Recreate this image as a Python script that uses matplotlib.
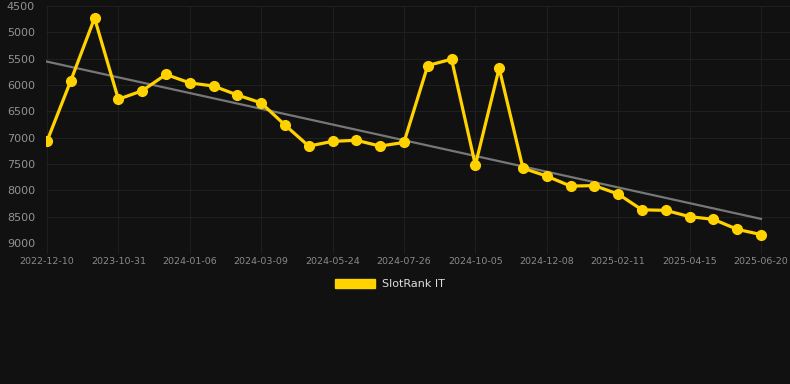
import numpy as np
import matplotlib
matplotlib.use("Agg")
import matplotlib.pyplot as plt
from matplotlib.patches import Patch

# Data
rank_values = [7070, 5920, 4730, 6270, 6110, 5800, 5960, 6020, 6190, 6340,
               6760, 7160, 7070, 7050, 7160, 7090, 5630, 5510, 7520, 5680,
               7580, 7730, 7920, 7910, 8070, 8370, 8380, 8500, 8550, 8740, 8840]
tick_labels = ["2022-12-10", "2023-10-31", "2024-01-06", "2024-03-09", "2024-05-24",
               "2024-07-26", "2024-10-05", "2024-12-08", "2025-02-11", "2025-04-15",
               "2025-06-20"]
y_ticks = [4500, 5000, 5500, 6000, 6500, 7000, 7500, 8000, 8500, 9000]
trend_ends = [5556, 8542]
series_name = "SlotRank IT"

BG = "#111111"
GOLD = "#FFD200"

fig = plt.figure(figsize=(7.9, 3.84), dpi=100, facecolor=BG)
ax = fig.add_axes([46/790, 1-243/384, 1-46/790, (243-6)/384])
ax.set_facecolor(BG)

x = np.arange(len(rank_values))

ax.plot([x[0], x[-1]], trend_ends, color="#777777", lw=1.6, zorder=2)
ax.plot(x, rank_values, color=GOLD, lw=2.3, marker="o", ms=7,
        markerfacecolor=GOLD, markeredgecolor=GOLD, zorder=3)

ax.set_ylim(9000, 4500)
ax.set_xlim(-0.04, 31.22)
ax.set_yticks(y_ticks)
ax.set_yticklabels([str(v) for v in y_ticks])
ax.set_xticks(x[::3])
ax.set_xticklabels(tick_labels)

ax.grid(True, color="#1f1f1f", lw=0.8)
ax.set_axisbelow(True)
for s in ax.spines.values():
    s.set_visible(False)
ax.tick_params(axis="y", colors="#939393", labelsize=8, length=0, pad=8)
ax.tick_params(axis="x", colors="#1f1f1f", labelcolor="#8a8a8a", labelsize=6.8, length=7, width=0.8, pad=3)

handle = Patch(facecolor=GOLD, edgecolor=GOLD)
fig.legend([handle], [series_name], loc="center", bbox_to_anchor=(390/790, 1-284/384),
           frameon=False, fontsize=8, labelcolor="#dddddd", handlelength=3.6,
           handleheight=0.9, handletextpad=0.6)

fig.savefig("out.png", dpi=100, facecolor=BG)
